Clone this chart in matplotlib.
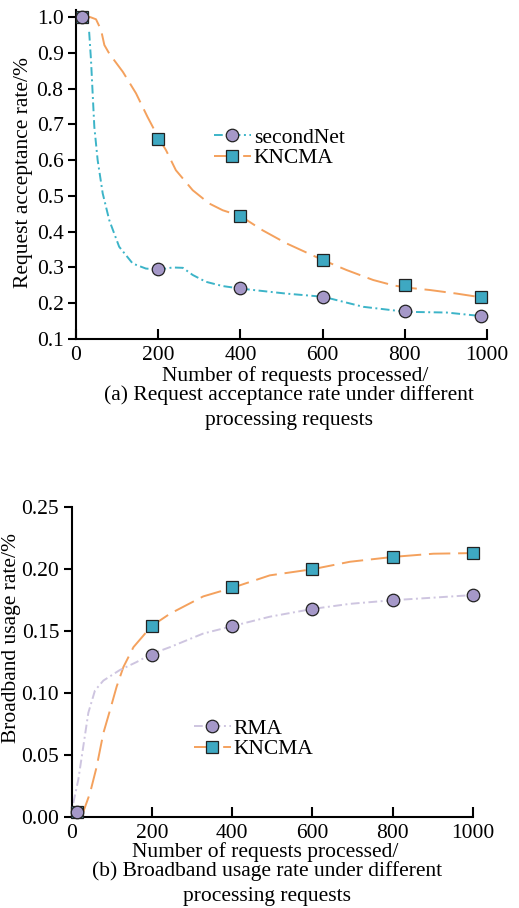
import matplotlib
matplotlib.use("Agg")
import matplotlib.pyplot as plt
from matplotlib.lines import Line2D

plt.rcParams['font.family'] = ['Liberation Serif', 'DejaVu Serif']

# ---------------- data (a) ----------------
a_x = [15, 200, 400, 600, 800, 985]
a_second = [1.0, 0.295, 0.242, 0.217, 0.177, 0.165]
a_kncma = [1.0, 0.66, 0.445, 0.322, 0.252, 0.217]
# curve traces
a_second_cx = [32, 36.5, 40.5, 44.6, 52.7, 65, 81, 105, 138, 170, 201, 235, 260, 284, 316, 357, 400, 511, 602, 699, 803, 902, 987]
a_second_cy = [0.959, 0.88, 0.787, 0.693, 0.60, 0.507, 0.432, 0.358, 0.311, 0.297, 0.294, 0.300, 0.299, 0.279, 0.26, 0.248, 0.241, 0.227, 0.218, 0.19, 0.176, 0.174, 0.164]
a_kncma_cx = [16, 35, 48.7, 61, 69, 81, 114, 146, 174, 201, 219, 243, 284, 324, 357, 400, 454, 511, 602, 658, 723, 772, 802, 861, 926, 983]
a_kncma_cy = [1.0, 1.0, 0.994, 0.964, 0.922, 0.898, 0.847, 0.787, 0.721, 0.662, 0.628, 0.572, 0.516, 0.479, 0.46, 0.444, 0.404, 0.368, 0.320, 0.293, 0.265, 0.250, 0.244, 0.237, 0.227, 0.217]
a_yticks = [0.1, 0.2, 0.3, 0.4, 0.5, 0.6, 0.7, 0.8, 0.9, 1.0]

# ---------------- data (b) ----------------
b_x = [12, 200, 400, 600, 800, 1000]
b_rma = [0.004, 0.131, 0.154, 0.168, 0.175, 0.179]
b_kncma = [0.004, 0.154, 0.186, 0.200, 0.210, 0.213]
b_rma_cx = [4, 16.5, 29, 41.5, 58, 79, 120, 162, 199, 245, 328, 401, 494, 603, 694, 804, 902, 996]
b_rma_cy = [0.011, 0.030, 0.057, 0.084, 0.102, 0.110, 0.1185, 0.125, 0.1315, 0.137, 0.148, 0.154, 0.1616, 0.168, 0.172, 0.175, 0.177, 0.179]
b_kncma_cx = [25, 29, 45.6, 62, 79, 95.5, 112, 129, 154, 199, 245, 328, 401, 494, 601, 694, 804, 902, 1000]
b_kncma_cy = [0.0, 0.004, 0.019, 0.040, 0.0676, 0.086, 0.105, 0.121, 0.137, 0.154, 0.164, 0.178, 0.185, 0.195, 0.200, 0.206, 0.210, 0.2125, 0.213]
b_yticks = [0.00, 0.05, 0.10, 0.15, 0.20, 0.25]
xticks = [0, 200, 400, 600, 800, 1000]

ORANGE = '#F4A15D'
TEAL = '#3CB4C8'
SQ = '#3EA8C2'
CIRC = '#A598C8'
LAV = '#CEC5E0'

W, H = 519, 908
fig = plt.figure(figsize=(W / 100, H / 100), dpi=100)
FS = 15.5

def style(ax):
    for s in ['top', 'right']:
        ax.spines[s].set_visible(False)
    for s in ['left', 'bottom']:
        ax.spines[s].set_linewidth(1.5)
    ax.tick_params(axis='y', direction='out', length=6, width=1.5, labelsize=FS, pad=3)
    ax.tick_params(axis='x', direction='in', length=7, width=1.5, labelsize=FS, pad=5)

lw = 1.4
dash_long = (11, 4)
dash_dot = (4.5, 1.8, 1, 1.8)
mk_c = dict(marker='o', ms=9, mfc=CIRC, mec='#222222', mew=0.9)
mk_s = dict(marker='s', ms=8.5, mfc=SQ, mec='#222222', mew=0.9)

# ---- top axes ----
ax1 = fig.add_axes([76 / W, 1 - 339 / H, 411 / W, 329 / H])
ax1.plot(a_kncma_cx, a_kncma_cy, color=ORANGE, lw=lw, dashes=dash_long, zorder=2)
ax1.plot(a_second_cx, a_second_cy, color=TEAL, lw=lw, dashes=dash_dot, zorder=2)
ax1.plot(a_x, a_kncma, ls='none', zorder=3, clip_on=False, **mk_s)
ax1.plot(a_x, a_second, ls='none', zorder=4, clip_on=False, **mk_c)
ax1.set_xlim(0, 1000)
ax1.set_ylim(0.1, 1.02)
ax1.set_xticks(xticks)
ax1.set_yticks(a_yticks)
ax1.set_yticklabels([f'{v:.1f}' for v in a_yticks])
style(ax1)
h1 = [Line2D([], [], color=TEAL, lw=lw, dashes=dash_dot, **mk_c),
      Line2D([], [], color=ORANGE, lw=lw, dashes=dash_long, **mk_s)]
ax1.legend(h1, ['secondNet', 'KNCMA'], loc='center left', bbox_to_anchor=(214 / W, 1 - 148 / H),
           bbox_transform=fig.transFigure, frameon=False, fontsize=FS, handlelength=1.7,
           handletextpad=0.15, labelspacing=0.0, borderpad=0, borderaxespad=0)

fig.text(24 / W, 1 - 173 / H, 'Request acceptance rate/%', rotation=90, ha='center', va='center', fontsize=FS)
fig.text(295 / W, 1 - 376 / H, 'Number of requests processed/', ha='center', va='center', fontsize=FS)
fig.text(289 / W, 1 - 395 / H, '(a) Request acceptance rate under different', ha='center', va='center', fontsize=FS)
fig.text(289 / W, 1 - 420 / H, 'processing requests', ha='center', va='center', fontsize=FS)

# ---- bottom axes ----
ax2 = fig.add_axes([71.7 / W, 1 - 816.7 / H, 401 / W, 309.4 / H])
ax2.plot(b_kncma_cx, b_kncma_cy, color=ORANGE, lw=lw, dashes=dash_long, zorder=2)
ax2.plot(b_rma_cx, b_rma_cy, color=LAV, lw=lw, dashes=dash_dot, zorder=2)
ax2.plot(b_x, b_kncma, ls='none', zorder=3, clip_on=False, **mk_s)
ax2.plot(b_x, b_rma, ls='none', zorder=4, clip_on=False, **mk_c)
ax2.set_xlim(0, 1000)
ax2.set_ylim(0, 0.25)
ax2.set_xticks(xticks)
ax2.set_yticks(b_yticks)
ax2.set_yticklabels([f'{v:.2f}' for v in b_yticks])
style(ax2)
h2 = [Line2D([], [], color=LAV, lw=lw, dashes=dash_dot, **mk_c),
      Line2D([], [], color=ORANGE, lw=lw, dashes=dash_long, **mk_s)]
ax2.legend(h2, ['RMA', 'KNCMA'], loc='center left', bbox_to_anchor=(194 / W, 1 - 739 / H),
           bbox_transform=fig.transFigure, frameon=False, fontsize=FS, handlelength=1.7,
           handletextpad=0.15, labelspacing=0.0, borderpad=0, borderaxespad=0)

fig.text(12 / W, 1 - 638 / H, 'Broadband usage rate/%', rotation=90, ha='center', va='center', fontsize=FS)
fig.text(265 / W, 1 - 852 / H, 'Number of requests processed/', ha='center', va='center', fontsize=FS)
fig.text(267 / W, 1 - 871 / H, '(b) Broadband usage rate under different', ha='center', va='center', fontsize=FS)
fig.text(267 / W, 1 - 897 / H, 'processing requests', ha='center', va='center', fontsize=FS)

fig.savefig('out.png', dpi=100)
